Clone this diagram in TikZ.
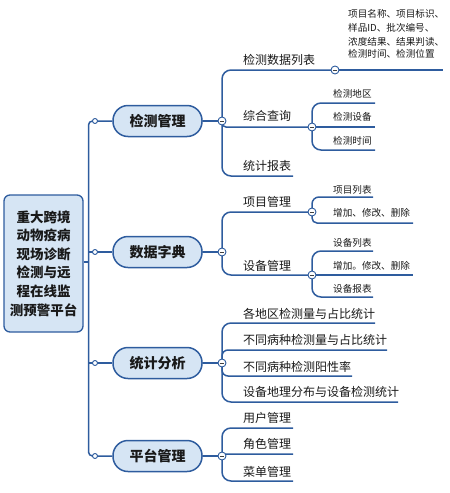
\documentclass[tikz,border=0pt]{standalone}
\usepackage{fontspec}
\setmainfont{Noto Sans CJK SC}
\definecolor{lineblue}{RGB}{46,92,158}
\definecolor{fillblue}{RGB}{214,229,244}
\definecolor{txt}{RGB}{25,25,25}
\begin{document}
\begin{tikzpicture}[x=1pt,y=-1pt,
  br/.style={draw=lineblue, line width=1.5pt, rounded corners=9pt},
  mainnode/.style={draw=lineblue, line width=1.5pt, fill=fillblue, rounded corners=15pt,
    minimum width=89pt, minimum height=31pt, inner sep=0pt, text=txt,
    font=\fontsize{14}{16}\selectfont\bfseries},
  rootnode/.style={draw=lineblue, line width=1.3pt, fill=fillblue, rounded corners=6pt,
    minimum width=79pt, minimum height=137pt, inner sep=0pt, align=center, text=txt,
    font=\fontsize{13.5}{18.6}\selectfont\bfseries},
  subt/.style={anchor=west, inner sep=0pt, text=txt, font=\fontsize{12}{14}\selectfont},
  leaft/.style={anchor=west, inner sep=0pt, text=txt, font=\fontsize{9.6}{11}\selectfont},
  smalldot/.style={circle, draw=lineblue, fill=white, line width=0.9pt, inner sep=0pt, minimum size=5pt},
  coll/.style={circle, draw=lineblue, fill=white, line width=0.9pt, inner sep=0pt, minimum size=8pt,
    path picture={\draw[line width=0.8pt, black!75]
      ([xshift=-2.2pt]path picture bounding box.center) -- ([xshift=2.2pt]path picture bounding box.center);}}
]
\useasboundingbox (0,0) rectangle (450,493);

% root and main nodes
\node[rootnode] (root) at (43.5,263.5) {重大跨境\\动物疫病\\现场诊断\\检测与远\\程在线监\\测预警平台};
\node[mainnode] (m1) at (157.5,121) {检测管理};
\node[mainnode] (m2) at (157.5,252) {数据字典};
\node[mainnode] (m3) at (157.5,363) {统计分析};
\node[mainnode] (m4) at (157.5,456) {平台管理};

% coordinates
\coordinate (sp) at (88.5,262);
\coordinate (dx) at (95,0);
\coordinate (c1) at (222,121);
\coordinate (c2) at (222,252);
\coordinate (c3) at (222,363);
\coordinate (c4) at (222,456);

% spine
\draw[br, rounded corners=4pt] (m1.west) -| (sp) |- (m4.west);
\draw[br] (sp |- m2.west) -- (m2.west);
\draw[br] (sp |- m3.west) -- (m3.west);
\draw[br] (root.east |- sp) -- (sp);

% main to collapse
\draw[br] (m1.east) -- (c1);
\draw[br] (m2.east) -- (c2);
\draw[br] (m3.east) -- (c3);
\draw[br] (m4.east) -- (c4);

% ---- 检测管理
\node[subt] (s11) at (243,60) {检测数据列表};
\node[subt] (s12) at (243,116) {综合查询};
\node[subt] (s13) at (243,166) {统计报表};
\coordinate (k11) at (335,70);
\coordinate (e11) at (443,70);
\coordinate (k12) at (312,127);
\coordinate (e13) at (293,176);
\draw[br] (c1) |- (k11);
\draw[br] (k11) -- (e11);
\draw[br, rounded corners=4pt] (c1) |- (k12);
\draw[br] (c1) |- (e13);
\node[leaft, align=left, anchor=north west] (l11) at (348,9)
  {项目名称、项目标识、\\[3.3pt]样品ID、批次编号、\\[3.3pt]浓度结果、结果判读、\\[0.5pt]检测时间、检测位置};
\node[leaft] (l121) at (333,94) {检测地区};
\node[leaft] (l122) at (333,117) {检测设备};
\node[leaft] (l123) at (333,141) {检测时间};
\coordinate (e121) at (375,103);
\coordinate (e122) at (375,127);
\coordinate (e123) at (375,150);
\draw[br] (k12) |- (e121);
\draw[br] (k12) -- (e122);
\draw[br] (k12) |- (e123);

% ---- 数据字典
\node[subt] (s21) at (243,202) {项目管理};
\node[subt] (s22) at (243,266) {设备管理};
\coordinate (k21) at (312,212);
\coordinate (k22) at (312,275);
\draw[br] (c2) |- (k21);
\draw[br] (c2) |- (k22);
\node[leaft] (l211) at (333,190) {项目列表};
\node[leaft] (l212) at (333,213) {增加、修改、删除};
\coordinate (e211) at (373,197);
\coordinate (e212) at (413,223);
\draw[br, rounded corners=7pt] (k21) |- (e211);
\draw[br, rounded corners=5pt] (k21) |- (e212);
\node[leaft] (l221) at (333,243) {设备列表};
\node[leaft] (l222) at (333,266) {增加。修改、删除};
\node[leaft] (l223) at (333,289) {设备报表};
\coordinate (e221) at (373,251);
\coordinate (e222) at (413,275);
\coordinate (e223) at (373,297);
\draw[br] (k22) |- (e221);
\draw[br] (k22) -- (e222);
\draw[br] (k22) |- (e223);

% ---- 统计分析
\node[subt] (s31) at (243,314) {各地区检测量与占比统计};
\node[subt] (s32) at (243,340) {不同病种检测量与占比统计};
\node[subt] (s33) at (243,367) {不同病种检测阳性率};
\node[subt] (s34) at (243,392) {设备地理分布与设备检测统计};
\coordinate (e31) at (375,323);
\coordinate (e32) at (387,350);
\coordinate (e33) at (352,376);
\coordinate (e34) at (398,402);
\draw[br] (c3) |- (e31);
\draw[br, rounded corners=6pt] (c3) |- (e32);
\draw[br, rounded corners=6pt] (c3) |- (e33);
\draw[br] (c3) |- (e34);

% ---- 平台管理
\node[subt] (s41) at (243,418) {用户管理};
\node[subt] (s42) at (243,444) {角色管理};
\node[subt] (s43) at (243,472) {菜单管理};
\coordinate (e41) at (293,428);
\coordinate (e42) at (293,454);
\coordinate (e43) at (293,481);
\draw[br] (c4) |- (e41);
\draw[br, rounded corners=1pt] (c4) |- (e42);
\draw[br] (c4) |- (e43);

% circles on top
\node[smalldot] (d1) at (dx |- m1.west) {};
\node[smalldot] (d2) at (dx |- m2.west) {};
\node[smalldot] (d3) at (dx |- m3.west) {};
\node[smalldot] (d4) at (dx |- m4.west) {};
\node[coll] (o1) at (c1) {};
\node[coll] (o2) at (c2) {};
\node[coll] (o3) at (c3) {};
\node[coll] (o4) at (c4) {};
\node[coll] (o11) at (k11) {};
\node[coll] (o12) at (k12) {};
\node[coll] (o21) at (k21) {};
\node[coll] (o22) at (k22) {};
\end{tikzpicture}
\end{document}
